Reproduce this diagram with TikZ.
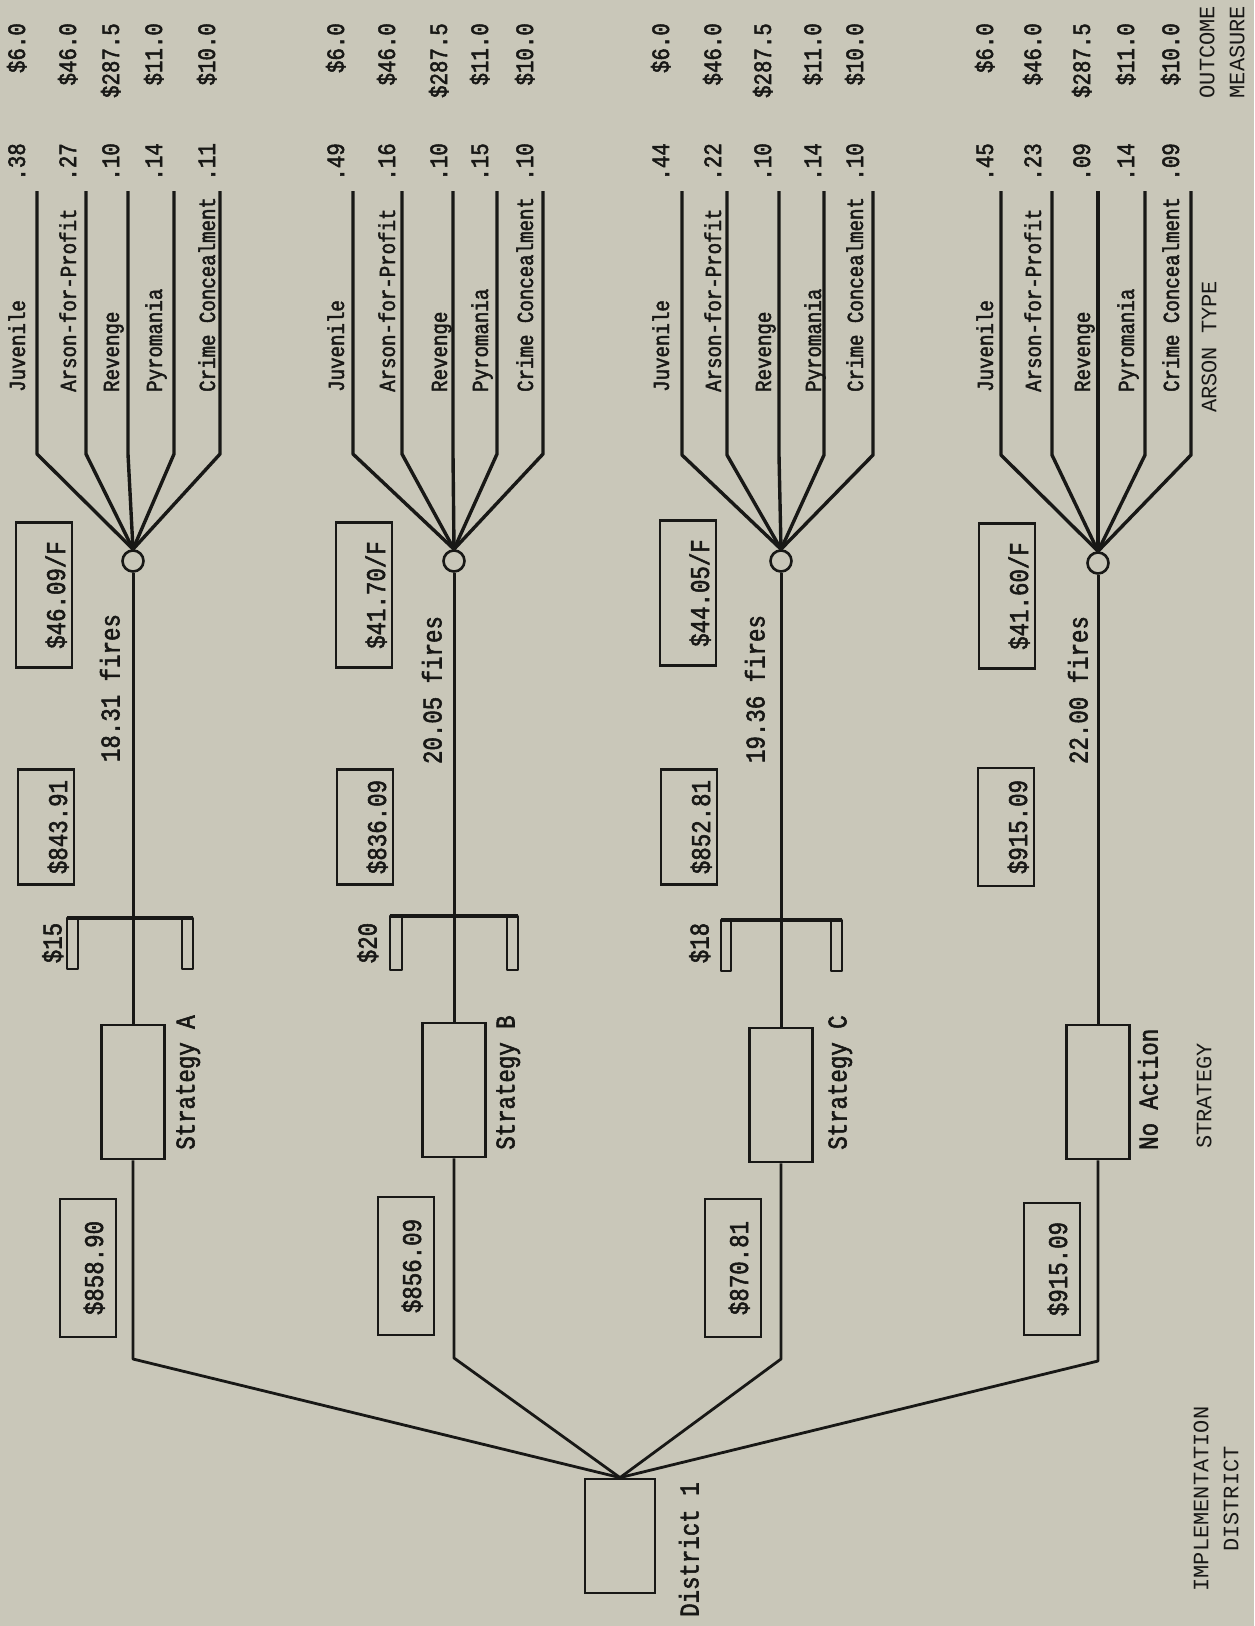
\documentclass[tikz,border=0pt]{standalone}
\usepackage{fontspec}
\newfontfamily\tw{Liberation Mono}[FakeBold=2,FakeStretch=0.83]
\newfontfamily\twcap{Liberation Mono}
\usetikzlibrary{positioning,calc}
\definecolor{paper}{RGB}{201,199,185}
\definecolor{ink}{RGB}{24,24,22}
\tikzset{
  ln/.style={draw=ink,line width=3.4pt,line join=round},
  chance/.style={circle,draw=ink,line width=2.6pt,fill=paper,minimum size=21pt,inner sep=0pt},
  sbox/.style={rectangle,draw=ink,line width=2.8pt,rotate=90,minimum width=134pt,minimum height=63pt,inner sep=0pt},
  vbox/.style={rectangle,draw=ink,line width=2.6pt,rotate=90,minimum width=145pt,minimum height=56pt,inner sep=0pt,text height=42pt,text depth=0pt,text=ink,font=\tw\fontsize{27}{30}\selectfont},
  lab/.style={rotate=90,inner sep=0pt,text=ink,text height=17pt,text depth=5pt,font=\tw\fontsize{23}{26}\selectfont},
  val/.style={lab,font=\tw\fontsize{25}{28}\selectfont},
  lbig/.style={rotate=90,inner sep=0pt,text=ink,text height=19pt,text depth=6pt,font=\tw\fontsize{27}{30}\selectfont},
  capt/.style={rotate=90,inner sep=0pt,text=ink,align=center,font=\twcap\fontsize{22}{30}\selectfont},
}
\begin{document}
\begin{tikzpicture}[x=1pt,y=-1pt]
  \fill[paper] (0,0) rectangle (1254,1626);
  \useasboundingbox (0,0) rectangle (1254,1626);

  % district (rotated boxes: east = top of page, west = bottom)
  \node[sbox,minimum width=114pt,minimum height=70pt] (dist) at (620,1536) {};
  \node[lbig,anchor=west] (ndist) at (692,1617) {District 1};

  % strategy A
  \node[chance] (cA) at (133,561) {};
  \node[sbox] (sA) at (133,1092) {};
  \node[lbig,anchor=west] (nA) at (188,1150) {Strategy A};
  \node[vbox] (fA) at (44,595) {\$46.09/F};
  \node[vbox,minimum width=115pt] (tA) at (46,827) {\$843.91};
  \node[vbox,minimum width=138pt,text height=30pt] (dA) at (88,1268) {\$858.90};
  \node[lbig] (xA) at (113,688) {18.31 fires};
  \node[lbig] (kA) at (55,943) {\$15};
  \draw[ln] (67,918) -- (193,918);
  \draw[ln,line width=2.4pt] (67,918) rectangle (78,969) (182,918) rectangle (193,969);
  \draw[ln,line width=2.8pt] (dist.east) -- (sA.west |- 0,1359) -- (sA.west);
  \draw[ln,line width=3pt] (sA.east) -- (cA.south);
  \foreach \lx/\tx/\p/\t/\v [count=\i] in {37/19/.38/Juvenile/6.0, 86/70/.27/Arson-for-Profit/46.0, 128/113/.10/Revenge/287.5, 174/156/.14/Pyromania/11.0, 220/209/.11/Crime Concealment/10.0}{
    \coordinate (a\i) at (\lx,191);
    \draw[ln] (cA.north) -- (\lx,454) -- (a\i);
    \node[lab,anchor=west] (ta\i) at (\tx,392) {\t};
    \node[val,anchor=east] (pa\i) at (\tx,143) {\p};
    \node[val,anchor=east] (va\i) at (\tx,23) {\$\v};
  }

  % strategy B
  \node[chance] (cB) at (454,561) {};
  \node[sbox] (sB) at (454,1090) {};
  \node[lbig,anchor=west] (nB) at (508,1150) {Strategy B};
  \node[vbox] (fB) at (364,595) {\$41.70/F};
  \node[vbox,minimum width=115pt] (tB) at (365,827) {\$836.09};
  \node[vbox,minimum width=138pt,text height=30pt] (dB) at (406,1266) {\$856.09};
  \node[lbig] (xB) at (435,690) {20.05 fires};
  \node[lbig] (kB) at (370,943) {\$20};
  \draw[ln] (390,916) -- (518,916);
  \draw[ln,line width=2.4pt] (390,916) rectangle (402,970) (507,916) rectangle (518,970);
  \draw[ln,line width=2.8pt] (dist.east) -- (sB.west |- 0,1358) -- (sB.west);
  \draw[ln,line width=3pt] (sB.east) -- (cB.south);
  \foreach \lx/\tx/\p/\t/\v [count=\i] in {353/338/.49/Juvenile/6.0, 402/389/.16/Arson-for-Profit/46.0, 453/441/.10/Revenge/287.5, 497/482/.15/Pyromania/11.0, 543/527/.10/Crime Concealment/10.0}{
    \coordinate (b\i) at (\lx,191);
    \draw[ln] (cB.north) -- (\lx,454) -- (b\i);
    \node[lab,anchor=west] (tb\i) at (\tx,392) {\t};
    \node[val,anchor=east] (pb\i) at (\tx,143) {\p};
    \node[val,anchor=east] (vb\i) at (\tx,23) {\$\v};
  }

  % strategy C
  \node[chance] (cC) at (781,561) {};
  \node[sbox] (sC) at (781,1095) {};
  \node[lbig,anchor=west] (nC) at (840,1150) {Strategy C};
  \node[vbox] (fC) at (688,593) {\$44.05/F};
  \node[vbox,minimum width=115pt] (tC) at (689,827) {\$852.81};
  \node[vbox,minimum width=138pt,text height=30pt] (dC) at (733,1268) {\$870.81};
  \node[lbig] (xC) at (758,689) {19.36 fires};
  \node[lbig] (kC) at (702,943) {\$18};
  \draw[ln] (721,920) -- (842,920);
  \draw[ln,line width=2.4pt] (721,920) rectangle (731,971) (831,920) rectangle (842,971);
  \draw[ln,line width=2.8pt] (dist.east) -- (sC.west |- 0,1359) -- (sC.west);
  \draw[ln,line width=3pt] (sC.east) -- (cC.south);
  \foreach \lx/\tx/\p/\t/\v [count=\i] in {682/663/.44/Juvenile/6.0, 727/715/.22/Arson-for-Profit/46.0, 779/765/.10/Revenge/287.5, 824/815/.14/Pyromania/11.0, 873/857/.10/Crime Concealment/10.0}{
    \coordinate (c\i) at (\lx,191);
    \draw[ln] (cC.north) -- (\lx,455) -- (c\i);
    \node[lab,anchor=west] (tc\i) at (\tx,392) {\t};
    \node[val,anchor=east] (pc\i) at (\tx,143) {\p};
    \node[val,anchor=east] (vc\i) at (\tx,23) {\$\v};
  }

  % no action
  \node[chance] (cD) at (1098,563) {};
  \node[sbox] (sD) at (1098,1092) {};
  \node[lbig,anchor=west] (nD) at (1151,1150) {No Action};
  \node[vbox] (fD) at (1007,596) {\$41.60/F};
  \node[vbox,minimum width=118pt] (tD) at (1006,827) {\$915.09};
  \node[vbox,minimum width=132pt,text height=30pt] (dD) at (1052,1269) {\$915.09};
  \node[lbig] (xD) at (1081,690) {22.00 fires};
  \draw[ln,line width=2.8pt] (dist.east) -- (sD.west |- 0,1361) -- (sD.west);
  \draw[ln,line width=3pt] (sD.east) -- (cD.south);
  \foreach \lx/\tx/\p/\t/\v [count=\i] in {1001/987/.45/Juvenile/6.0, 1052/1035/.23/Arson-for-Profit/46.0, 1098/1084/.09/Revenge/287.5, 1145/1128/.14/Pyromania/11.0, 1191/1173/.09/Crime Concealment/10.0}{
    \coordinate (d\i) at (\lx,191);
    \draw[ln] (cD.north) -- (\lx,455) -- (d\i);
    \node[lab,anchor=west] (td\i) at (\tx,392) {\t};
    \node[val,anchor=east] (pd\i) at (\tx,143) {\p};
    \node[val,anchor=east] (vd\i) at (\tx,23) {\$\v};
  }

  % column headings
  \node[capt] (hout) at (1222,52) {OUTCOME\\MEASURE};
  \node[capt,anchor=west] (htype) at (1209,413) {ARSON TYPE};
  \node[capt,anchor=west] (hstrat) at (1204,1149) {STRATEGY};
  \node[capt] (hdist) at (1216,1499) {IMPLEMENTATION\\DISTRICT};
\end{tikzpicture}
\end{document}
